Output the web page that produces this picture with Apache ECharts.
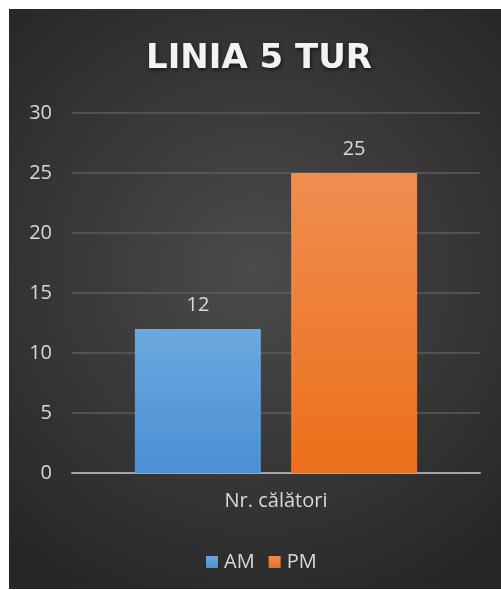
<!DOCTYPE html>
<html>
<head>
<meta charset="utf-8">
<script src="https://cdn.jsdelivr.net/npm/echarts@6/dist/echarts.min.js"></script>
<style>
html, body { margin: 0; padding: 0; background: #fff; }
#main { width: 501px; height: 590px; }
</style>
</head>
<body>
<div id="main"></div>
<script>
var categories = ['Nr. călători'];
var amValues = [12];
var pmValues = [25];
var seriesNames = ['AM', 'PM'];

var myChart = echarts.init(document.getElementById('main'));
var option;

var fontFam = '"Open Sans", "Noto Sans", sans-serif';

option = {
    animation: false,
    graphic: [
        {
            type: 'rect',
            z: -10,
            shape: { x: 9, y: 9, width: 492, height: 580 },
            style: {
                fill: new echarts.graphic.RadialGradient(0.5, 0.45, 0.75, [
                    { offset: 0, color: '#4b4b4b' },
                    { offset: 1, color: '#262626' }
                ])
            }
        }
    ],
    title: {
        text: 'LINIA 5 TUR',
        left: 141,
        top: 37,
        textStyle: {
            color: '#f2f2f2',
            fontSize: 34,
            fontWeight: 'bold',
            fontFamily: '"DejaVu Sans", sans-serif',
            textShadowColor: 'rgba(0,0,0,0.6)',
            textShadowBlur: 4,
            textShadowOffsetX: 1,
            textShadowOffsetY: 2
        }
    },
    legend: {
        top: 547,
        left: 201,
        itemWidth: 12,
        itemHeight: 12,
        itemGap: 14,
        icon: 'rect',
        textStyle: { color: '#d9d9d9', fontSize: 20, fontFamily: fontFam, padding: [0, 0, 0, 1] },
        data: seriesNames
    },
    grid: {
        left: 72,
        right: 21,
        top: 113,
        bottom: 117
    },
    xAxis: {
        type: 'category',
        data: categories,
        axisLine: { lineStyle: { color: '#a6a6a6', width: 2 } },
        axisTick: { show: false },
        axisLabel: { color: '#d9d9d9', fontSize: 20, margin: 18, fontFamily: fontFam }
    },
    yAxis: {
        type: 'value',
        min: 0,
        max: 30,
        interval: 5,
        axisLine: { show: false },
        axisTick: { show: false },
        axisLabel: { color: '#d9d9d9', fontSize: 20, margin: 20, fontFamily: fontFam },
        splitLine: { lineStyle: { color: '#5c5c5c', width: 1.5 } }
    },
    series: [
        {
            name: seriesNames[0],
            type: 'bar',
            data: amValues,
            barWidth: 126,
            barGap: '24%',
            itemStyle: {
                color: new echarts.graphic.LinearGradient(0, 0, 0, 1, [
                    { offset: 0, color: '#6ca8de' },
                    { offset: 1, color: '#4a90d4' }
                ])
            },
            label: {
                show: true,
                position: 'top',
                distance: 14,
                color: '#d9d9d9',
                fontSize: 20,
                fontFamily: fontFam
            }
        },
        {
            name: seriesNames[1],
            type: 'bar',
            data: pmValues,
            barWidth: 126,
            itemStyle: {
                color: new echarts.graphic.LinearGradient(0, 0, 0, 1, [
                    { offset: 0, color: '#f08d50' },
                    { offset: 1, color: '#ec6f1a' }
                ])
            },
            label: {
                show: true,
                position: 'top',
                distance: 14,
                color: '#d9d9d9',
                fontSize: 20,
                fontFamily: fontFam
            }
        }
    ]
};
option && myChart.setOption(option);
</script>
</body>
</html>
